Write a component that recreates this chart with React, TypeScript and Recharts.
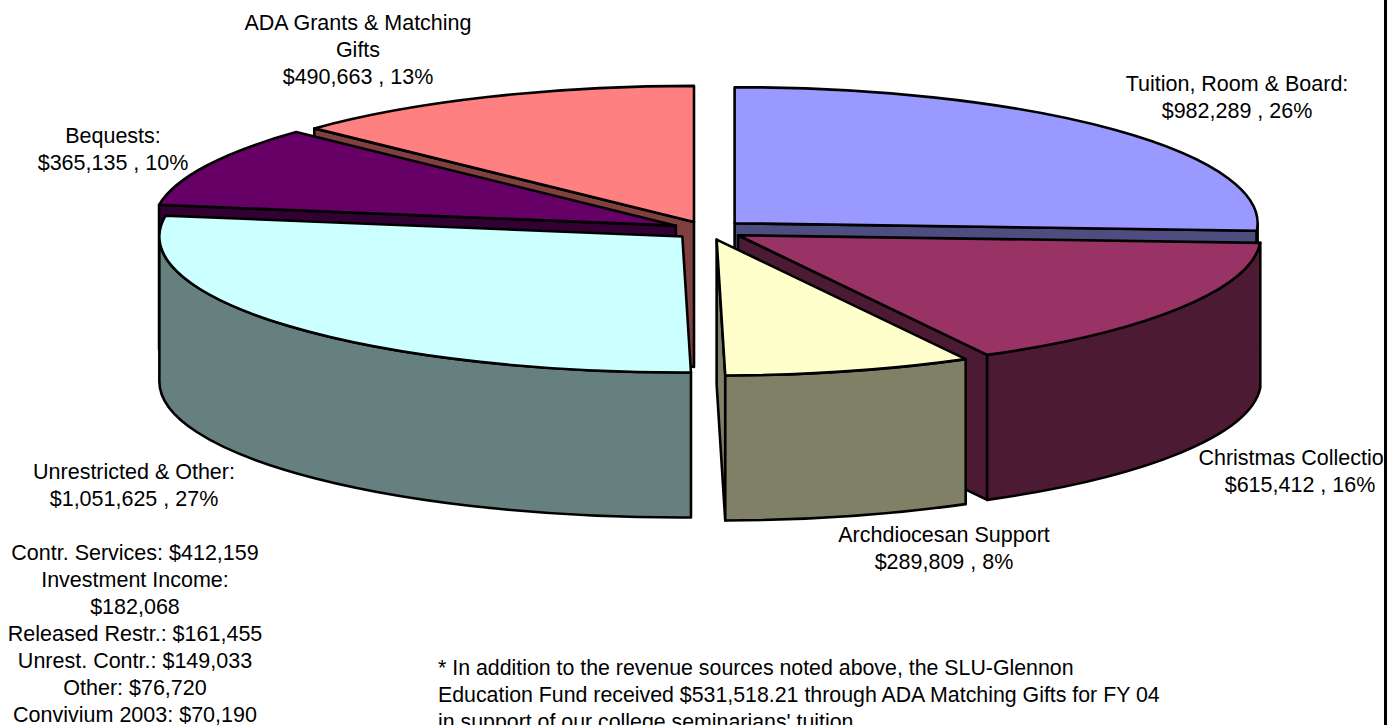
import React from "react";
import { PieChart, Pie } from "recharts";

const rightNames = ["Tuition, Room & Board", "Christmas Collection", "Archdiocesan Support"];
const rightValues = [982289, 615412, 289809];
const leftNames = ["ADA Grants & Matching Gifts", "Bequests", "Unrestricted & Other"];
const leftValues = [490663, 365135, 1051625];
const rightTop = ["#9999FF", "#993366", "#FFFFCC"];
const rightSide = ["#4D4D80", "#4D1A33", "#808066"];
const leftTop = ["#FF8080", "#660066", "#CCFFFF"];
const leftSide = ["#804040", "#330033", "#668080"];
const rightLabels = [
  ["Tuition, Room & Board:", "$982,289 , 26%"],
  ["Christmas Collection:", "$615,412 , 16%"],
  ["Archdiocesan Support", "$289,809 , 8%"],
];
const leftLabels = [
  ["ADA Grants & Matching", "Gifts", "$490,663 , 13%"],
  ["Bequests:", "$365,135 , 10%"],
  ["Unrestricted & Other:", "$1,051,625 , 27%"],
];
const rightLabelPos = [[1237, 91], [1300, 465], [944, 542]];
const leftLabelPos = [[358, 30], [113, 143], [134, 479]];
const rightNudge = [[0, 0], [-1, 0], [0, 0]];
const leftNudge = [[2, 1], [3, 0], [4, 0]];
const breakdownLines = [
  "Contr. Services: $412,159",
  "Investment Income:",
  "$182,068",
  "Released Restr.: $161,455",
  "Unrest. Contr.: $149,033",
  "Other: $76,720",
  "Convivium 2003: $70,190",
];
const noteLines = [
  "* In addition to the revenue sources noted above, the SLU-Glennon",
  "Education Fund received $531,518.21 through ADA Matching Gifts for FY 04",
  "in support of our college seminarians' tuition.",
];

const FONT = "'Liberation Sans', Arial, sans-serif";
const FS = 21.5;
const LH = 27;
const TILT = 136 / 523;
const DEPTH = 145;
const EXPLODE = 38;
const total = [...rightValues, ...leftValues].reduce((a, b) => a + b, 0);
const rightSweep = (rightValues.reduce((a, b) => a + b, 0) / total) * 360;
const leftSweep = 360 - rightSweep;

function Slice3D(props: any) {
  const { cx, cy, outerRadius: R, startAngle, endAngle, index, sides, tops, nudge } = props;
  const a = 90 - Math.max(startAngle, endAngle);
  const b = 90 - Math.min(startAngle, endAngle);
  const mid = ((a + b) / 2) * (Math.PI / 180);
  const ox = cx + EXPLODE * Math.sin(mid) + nudge[index][0];
  const oy = cy - EXPLODE * TILT * Math.cos(mid) + nudge[index][1];
  const pt = (deg: number) => {
    const t = (deg * Math.PI) / 180;
    return [ox + R * Math.sin(t), oy - R * TILT * Math.cos(t)];
  };
  const [ax, ay] = pt(a);
  const [bx, by] = pt(b);
  const arc = (x: number, y: number, sweep: number) => `A${R} ${R * TILT} 0 0 ${sweep} ${x} ${y}`;
  const face = (x: number, y: number) =>
    `M${ox} ${oy}L${x} ${y}L${x} ${y + DEPTH}L${ox} ${oy + DEPTH}Z`;
  const sinA = Math.sin((a * Math.PI) / 180);
  const sinB = Math.sin((b * Math.PI) / 180);
  const nA = ((a % 360) + 360) % 360;
  const wStart = Math.max(nA, 90);
  const wEnd = Math.min(nA + (b - a), 270);
  let wall = null;
  if (wEnd > wStart) {
    const [wx0, wy0] = pt(wStart);
    const [wx1, wy1] = pt(wEnd);
    wall = `M${wx0} ${wy0}${arc(wx1, wy1, 1)}L${wx1} ${wy1 + DEPTH}${arc(wx0, wy0 + DEPTH, 0)}Z`;
  }
  const common = { stroke: "#000", strokeWidth: 2.6, strokeLinejoin: "round" as const };
  return (
    <g>
      {sinA < -1e-6 && <path d={face(ax, ay)} fill={sides[index]} {...common} />}
      {sinB > 1e-6 && <path d={face(bx, by)} fill={sides[index]} {...common} />}
      {wall && <path d={wall} fill={sides[index]} {...common} />}
      <path d={`M${ox} ${oy}L${ax} ${ay}${arc(bx, by, 1)}Z`} fill={tops[index]} {...common} />
    </g>
  );
}

const makeLabel = (lines: string[][], pos: number[][]) => (p: any) => {
  const [x, y] = pos[p.index];
  return (
    <text key={p.index} x={x} y={y} textAnchor="middle" fontFamily={FONT} fontSize={FS} fill="#000">
      {lines[p.index].map((l, i) => (
        <tspan key={i} x={x} y={y + i * LH}>
          {l}
        </tspan>
      ))}
    </text>
  );
};

const toData = (names: string[], values: number[]) => names.map((name, i) => ({ name, value: values[i] }));

export default function App() {
  return (
    <div style={{ position: "absolute", left: 0, top: 0, width: 1387, height: 725, overflow: "hidden", background: "#fff" }}>
      <PieChart width={1387} height={725} margin={{ top: 0, right: 0, bottom: 0, left: 0 }}>
        <Pie
          data={toData(leftNames, leftValues)}
          dataKey="value"
          cx={707}
          cy={230}
          outerRadius={523}
          startAngle={90}
          endAngle={90 + leftSweep}
          isAnimationActive={false}
          labelLine={false}
          label={makeLabel(leftLabels, leftLabelPos)}
          shape={(p: any) => <Slice3D {...p} tops={leftTop} sides={leftSide} nudge={leftNudge} />}
        />
        <Pie
          data={toData(rightNames, rightValues)}
          dataKey="value"
          cx={707}
          cy={230}
          outerRadius={523}
          startAngle={90}
          endAngle={90 - rightSweep}
          isAnimationActive={false}
          labelLine={false}
          label={makeLabel(rightLabels, rightLabelPos)}
          shape={(p: any) => <Slice3D {...p} tops={rightTop} sides={rightSide} nudge={rightNudge} />}
        />
      </PieChart>
      <svg width={1387} height={725} style={{ position: "absolute", left: 0, top: 0, pointerEvents: "none" }}>
        <text fontFamily={FONT} fontSize={FS} textAnchor="middle" fill="#000">
          {breakdownLines.map((l, i) => (
            <tspan key={i} x={135} y={560 + i * LH}>
              {l}
            </tspan>
          ))}
        </text>
        <text fontFamily={FONT} fontSize={21.33} fill="#000">
          {noteLines.map((l, i) => (
            <tspan key={i} x={438} y={675 + i * LH}>
              {l}
            </tspan>
          ))}
        </text>
        <rect x={1384} y={0} width={3} height={725} fill="#000" />
      </svg>
    </div>
  );
}
